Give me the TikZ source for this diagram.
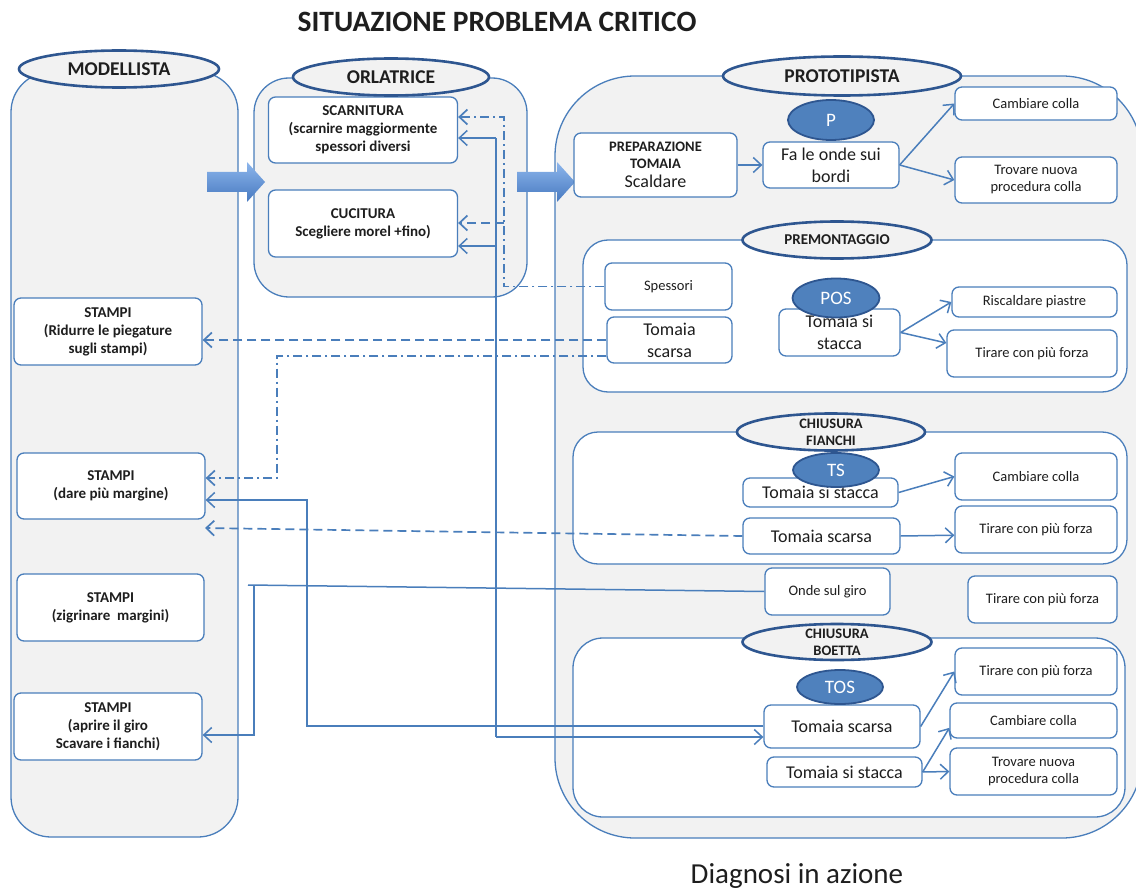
\documentclass[tikz,border=0pt]{standalone}
\usepackage{fontspec}
\setmainfont{Carlito}
\usetikzlibrary{arrows.meta,shapes.geometric}
\definecolor{lanegray}{HTML}{F2F2F2}
\definecolor{lineblue}{HTML}{4A7EBB}
\definecolor{darkblue}{HTML}{2E5690}
\definecolor{tagblue}{HTML}{4F81BD}
\definecolor{txt}{HTML}{1E1E1E}
\definecolor{arrowtop}{HTML}{8DB6EC}
\definecolor{arrowbot}{HTML}{4779C0}

\begin{document}
\begin{tikzpicture}[x=1pt,y=-1pt,
  sz/.style 2 args={minimum width=#1,minimum height=#2},
  lane/.style={draw=lineblue,line width=1.3pt,fill=lanegray},
  sublane/.style={draw=lineblue,line width=1.3pt,fill=white},
  box/.style={draw=lineblue,line width=1.3pt,fill=white,rounded corners=7pt,
    inner sep=0pt,align=center,text=txt,font=\fontsize{14.5}{17}\selectfont},
  hd/.style={font=\bfseries\fontsize{15}{18}\selectfont},
  big/.style={font=\fontsize{18}{22}\selectfont},
  ltitle/.style={ellipse,draw=darkblue,line width=2.6pt,fill=lanegray,inner sep=0pt},
  lfont/.style={text=txt,align=center,font=\bfseries\fontsize{14.5}{17}\selectfont},
  tag/.style={ellipse,draw=darkblue,line width=1.8pt,fill=tagblue,inner sep=0pt,
    text=white,font=\fontsize{19}{22}\selectfont},
  conn/.style={draw=lineblue,line width=1.5pt},
  dashconn/.style={conn,line width=1.7pt,dash pattern=on 9pt off 5pt},
  dotconn/.style={conn,line width=1.7pt,dash pattern=on 9pt off 4pt on 2pt off 4pt},
  >={Straight Barb[length=8pt,width=15pt]},
  blockarrow/.style={top color=arrowtop,bottom color=arrowbot,draw=none}
]
\useasboundingbox (0,0) rectangle (1136,888);
\clip (0,0) rectangle (1136,888);

% headings
\node[text=txt,font=\bfseries\fontsize{29.5}{32}\selectfont] (title) at (497,22) {SITUAZIONE PROBLEMA CRITICO};
\node[text=txt,anchor=base,font=\fontsize{29}{32}\selectfont] (caption) at (797,883) {Diagnosi in azione};

% swimlanes
\draw[lane,rounded corners=40pt] (11,72) rectangle (238,837);
\draw[lane,rounded corners=35pt] (254,78) rectangle (527,297);
\path[fill=lanegray,rounded corners=80pt] (555,76) rectangle (1142,838);
\draw[sublane,rounded corners=25pt] (583,240) rectangle (1127,392);
\draw[sublane,rounded corners=25pt] (573,432) rectangle (1127,564);
\draw[sublane,rounded corners=30pt] (573,638) rectangle (1125,817);
\draw[draw=lineblue,line width=1.3pt,rounded corners=80pt] (555,76) rectangle (1142,838);

% hand-over arrows between lanes
\shade[blockarrow] (207,172) -- (247,172) -- (247,162) -- (265,182) -- (247,202) -- (247,192) -- (207,192) -- cycle;
\shade[blockarrow] (517,172) -- (557,172) -- (557,162) -- (575,182) -- (557,202) -- (557,192) -- (517,192) -- cycle;

% MODELLISTA
\node[box,hd,sz={188}{67}] (st1) at (108,331.5) {STAMPI\\(Ridurre le piegature\\sugli stampi)};
\node[box,hd,sz={188}{66}] (st2) at (111,486) {STAMPI\\(dare più margine)};
\node[box,hd,sz={187}{67}] (st3) at (110.5,607.5) {STAMPI\\(zigrinare\ \ margini)};
\node[box,hd,sz={188}{67}] (st4) at (108,726.5) {STAMPI\\(aprire il giro\\Scavare i fianchi)};

% ORLATRICE
\node[box,hd,sz={189}{66}] (scarn) at (363,130) {SCARNITURA\\(scarnire maggiormente\\spessori diversi};
\node[box,hd,sz={189}{67}] (cucit) at (363,223.5) {CUCITURA\\Scegliere morel +fino)};

% PROTOTIPISTA
\node[box,sz={163}{64}] (prep) at (655.5,165) {\textbf{PREPARAZIONE}\\\textbf{TOMAIA}\\[2pt]{\fontsize{18}{20}\selectfont Scaldare}};
\node[box,big,sz={136}{46}] (fa) at (831,165) {Fa le onde sui\\bordi};
\node[box,sz={162}{33}] (camb1) at (1036,103.5) {Cambiare colla};
\node[box,sz={162}{46}] (trov1) at (1036,180) {Trovare nuova\\procedura colla};

\node[box,sz={127}{47}] (spess) at (668.5,286.5) {Spessori};
\node[box,big,sz={125}{46}] (tsc1) at (669.5,340) {Tomaia\\scarsa};
\node[box,big,sz={121}{47}] (tss1) at (839.5,332.5) {Tomaia si\\stacca};
\node[box,sz={165}{30}] (risc) at (1034.5,302) {Riscaldare piastre};
\node[box,sz={170}{47}] (tir1) at (1032,353.5) {Tirare con più forza};

\node[box,big,sz={155}{29}] (tss2) at (820.5,492.5) {Tomaia si stacca};
\node[box,big,sz={157}{36}] (tsc2) at (821.5,536) {Tomaia scarsa};
\node[box,sz={162}{47}] (camb2) at (1036,476.5) {Cambiare colla};
\node[box,sz={162}{47}] (tir2) at (1036,529.5) {Tirare con più forza};

\node[box,sz={125}{47}] (onde) at (827.5,591.5) {Onde sul giro};
\node[box,sz={149}{47}] (tir3) at (1042.5,599.5) {Tirare con più forza};

\node[box,big,sz={156}{43}] (tsc3) at (842,726.5) {Tomaia scarsa};
\node[box,big,sz={155}{30}] (tss3) at (844.5,772) {Tomaia si stacca};
\node[box,sz={162}{47}] (tir4) at (1036,671.5) {Tirare con più forza};
\node[box,sz={167}{35}] (camb3) at (1033.5,720.5) {Cambiare colla};
\node[box,sz={167}{47}] (trov3) at (1033.5,771.5) {Trovare nuova\\procedura colla};

% lane titles
\node[ltitle,sz={200}{37},label={[lfont,font=\bfseries\fontsize{19.5}{22}\selectfont]center:MODELLISTA}] (eMod) at (119,69) {};
\node[ltitle,sz={196}{37},label={[lfont,font=\bfseries\fontsize{19.5}{22}\selectfont]center:ORLATRICE}] (eOrl) at (391,77) {};
\node[ltitle,sz={238}{39},label={[lfont,font=\bfseries\fontsize{19.5}{22}\selectfont]center:PROTOTIPISTA}] (eProto) at (842,76) {};
\node[ltitle,sz={189}{37},label={[lfont,font=\bfseries\fontsize{15}{17}\selectfont]center:PREMONTAGGIO}] (ePrem) at (837,240) {};
\node[ltitle,sz={188}{37},label={[lfont]center:CHIUSURA\\FIANCHI}] (eFian) at (831,432) {};
\node[ltitle,sz={189}{36},label={[lfont]center:CHIUSURA\\BOETTA}] (eBoet) at (837,642) {};

% problem tags
\node[tag,sz={86}{40}] (eP) at (831,120) {P};
\node[tag,sz={87}{39}] (ePOS) at (836,298) {POS};
\node[tag,sz={86}{34}] (eTS) at (836,470) {TS};
\node[tag,sz={86}{34}] (eTOS) at (840,687) {TOS};

% flow inside PROTOTIPISTA
\draw[conn,->] (prep.east) -- (fa.west);
\draw[conn,->] (fa.east) -- (camb1.west);
\draw[conn,->] (fa.east) -- (trov1.west);
\draw[conn,->] (tss1.east) -- (risc.west);
\draw[conn,->] (tss1.east) -- (tir1.173);
\draw[conn,->] (tss2.east) -- (camb2.west);
\draw[conn,->] (tsc2.east) -- (tir2.184);
\draw[conn,->] (tsc3.east) -- (tir4.west);
\draw[conn,->] (tss3.east) -- (camb3.185);
\draw[conn,->] (tss3.east) -- (trov3.west);

% Spessori back to ORLATRICE
\coordinate (sA) at (504,117);
\coordinate (sC) at (504,223);
\draw[dotconn,->] (spess.west) -- (spess.west -| sA) -- (sA) -- (sA -| scarn.east);
\draw[dashconn,->] (sC) -- (sC -| cucit.east);

% Tomaia scarsa (premontaggio) back to STAMPI
\draw[dashconn,->] (tsc1.west |- 0,340) -- (st1.east |- 0,340);
\coordinate (dA) at (277,356);
\coordinate (dB) at (277,478);
\draw[dotconn,->] (tsc1.west |- dA) -- (dA) -- (dB) -- (dB -| st2.east);

% Tomaia scarsa (chiusura fianchi) back to STAMPI
\coordinate (eD) at (205,528);
\draw[dashconn,->] (tsc2.west) -- (eD);

% Tomaia scarsa (chiusura boetta) back to STAMPI
\coordinate (fA) at (307,726);
\coordinate (fB) at (307,500);
\draw[conn,->] (tsc3.west |- fA) -- (fA) -- (fB) -- (fB -| st2.east);

% shared link ORLATRICE / chiusura boetta
\coordinate (gA) at (496,138);
\coordinate (gB) at (496,246);
\coordinate (gC) at (496,737);
\draw[conn] (gA) -- (gC);
\draw[conn,->] (gA) -- (gA -| scarn.east);
\draw[conn,->] (gB) -- (gB -| cucit.east);
\draw[conn,->] (gC) -- (gC -| tsc3.west);

% Onde sul giro back to STAMPI
\coordinate (hA) at (248,585);
\coordinate (hB) at (254,585);
\coordinate (hC) at (254,735);
\draw[conn] (onde.west) -- (hA);
\draw[conn,->] (hB) -- (hC) -- (hC -| st4.east);
\end{tikzpicture}
\end{document}
